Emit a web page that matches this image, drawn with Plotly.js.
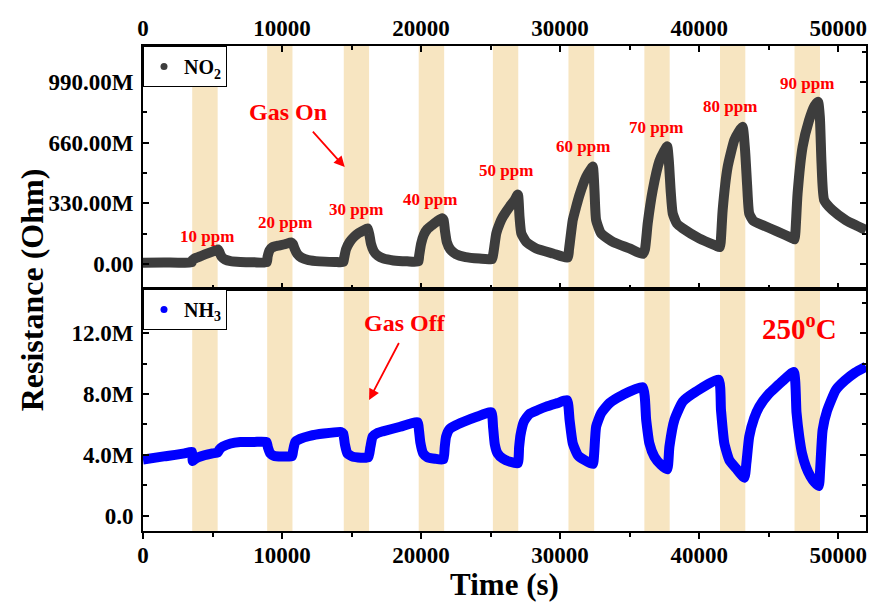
<!DOCTYPE html>
<html>
<head>
<meta charset="utf-8">
<script src="https://cdn.plot.ly/plotly-3.0.1.min.js"></script>
<style>html,body{margin:0;padding:0;background:#fff;}#chart{width:873px;height:602px;}</style>
</head>
<body>
<div id="chart"></div>
<script>
// Gas-on intervals (s)
const bandStart = [3540, 8930, 14440, 19830, 25165, 30600, 36060, 41500, 46860];
const bandEnd   = [5370, 10750, 16260, 21660, 26990, 32450, 37880, 43320, 48690];

// NO2 response: time (s) and resistance (MOhm)
const no2Time = [0,1500,3500,
  3560,3700,4200,4700,5200,5400,5500,5650,5900,6300,7000,8000,8900,
  8960,9100,9300,9700,10200,10650,10780,10900,11100,11400,11900,12700,13800,14400,
  14470,14600,14870,15200,15500,15850,16150,16280,16400,16600,16900,17300,18000,19000,19800,
  19860,20000,20200,20450,20800,21150,21500,21620,21720,21850,22100,22500,23200,24200,25100,
  25200,25410,25650,25880,26360,26700,26960,27080,27210,27560,28280,29480,30550,
  30640,30910,31150,31390,31870,32200,32350,32470,32590,32950,33790,34990,35940,
  36100,36300,36660,37140,37450,37700,37820,37950,38100,38400,38820,40000,41210,41480,
  41550,41690,42050,42530,42850,43120,43300,43450,43600,43900,44560,45600,46720,46860,
  46920,47080,47440,47900,48300,48550,48680,48800,48990,49590,50550,51300,52000];
const no2Value = [8,9,10,
  22,30,45,60,74,80,65,40,25,16,12,10,10,
  40,75,92,100,108,118,110,85,55,35,22,15,12,11,
  35,80,121,150,168,183,194,160,110,70,45,30,20,15,14,
  45,110,160,190,212,232,250,240,180,120,80,55,38,30,27,
  60,167,220,257,311,345,378,257,167,121,85,58,36,
  80,239,310,375,474,515,530,402,239,167,121,85,55,
  80,221,402,560,610,640,560,400,275,220,194,140,100,92,
  120,293,528,674,720,746,620,430,275,235,212,178,140,135,
  170,384,637,780,860,882,800,550,348,293,239,210,185];

// NH3 response: time (s) and resistance (MOhm)
const nh3Time = [0,1500,3000,3520,3580,3700,4000,5000,5370,5500,5750,6300,7000,8000,8880,
  8980,9150,9400,10000,10720,10800,10950,11300,12000,13000,14250,
  14400,14520,14700,15100,16200,16350,16520,16900,17250,18500,19750,
  19850,19950,20150,20450,21000,21600,21700,21800,22050,22500,23000,24000,25050,
  25180,25300,25500,25890,26400,26950,27050,27150,27400,27800,28400,29000,29800,30500,
  30680,30910,31270,31750,32350,32450,32590,32950,33550,34500,35940,
  36190,36420,36780,37260,37700,37860,38220,38820,39780,41400,
  41570,41810,42170,42650,43250,43400,43600,43950,44320,45000,45520,46000,46800,
  47000,47200,47400,47680,48000,48300,48600,48700,48880,49200,49830,50500,51200,52000];
const nh3Value = [3.7,3.9,4.1,4.2,3.6,3.7,3.85,4.1,4.15,4.35,4.55,4.75,4.85,4.85,4.85,
  4.5,4.1,3.95,3.9,3.92,4.3,4.85,5.05,5.25,5.4,5.5,
  5.4,4.7,4.1,3.88,3.84,4.5,5.2,5.45,5.55,5.85,6.15,
  5.6,4.8,4.1,3.85,3.75,3.7,4.5,5.2,5.7,5.95,6.15,6.5,6.8,
  5.8,4.7,4.1,3.75,3.55,3.45,4.5,5.3,6.2,6.7,6.95,7.17,7.4,7.6,
  6.3,4.76,3.99,3.66,3.4,4.1,5.86,6.74,7.4,7.94,8.45,
  6.3,4.76,3.88,3.34,3.05,4.54,6.3,7.5,8.16,8.95,
  6.95,4.76,3.66,3.12,2.5,3.5,5.2,6.4,7.17,8.0,8.45,8.85,9.45,
  6.8,5.2,4.1,3.22,2.6,2.2,1.95,3.0,5.64,6.9,8.27,8.9,9.4,9.8];

const ppmLabels = ['10 ppm','20 ppm','30 ppm','40 ppm','50 ppm','60 ppm','70 ppm','80 ppm','90 ppm'];

const topTickVals = [0, 330, 660, 990];
const topTickText = ['0.00', '330.00M', '660.00M', '990.00M'];
const botTickVals = [0, 4, 8, 12];
const botTickText = ['0.0', '4.0M', '8.0M', '12.0M'];

const FONT = 'Liberation Serif, Times New Roman, serif';
const tickFont = {family: FONT, size: 23, weight: 'bold', color: '#000'};

const traces = [
  {x: no2Time, y: no2Value, xaxis: 'x2', yaxis: 'y2', mode: 'lines', showlegend: false,
   line: {color: '#3d3d3d', width: 10, shape: 'spline', smoothing: 0.5}},
  {x: nh3Time, y: nh3Value, xaxis: 'x', yaxis: 'y', mode: 'lines', showlegend: false,
   line: {color: '#0000ff', width: 10, shape: 'spline', smoothing: 0.5}},
  {x: [null], y: [null], xaxis: 'x2', yaxis: 'y2', mode: 'markers', name: 'NO<sub>2</sub>',
   marker: {color: '#3d3d3d', size: 7}, legend: 'legend'},
  {x: [null], y: [null], xaxis: 'x', yaxis: 'y', mode: 'markers', name: 'NH<sub>3</sub>',
   marker: {color: '#0000ff', size: 7}, legend: 'legend2'}
];

const shapes = bandStart.map((s, i) => ({
  type: 'rect', xref: 'x', yref: 'paper', x0: s, x1: bandEnd[i], y0: 0, y1: 1,
  fillcolor: '#f7e5c1', line: {width: 0}, layer: 'below'
}));

// ppm label positions (relative to the peaks)
const ppmX = [4600, 10200, 15300, 20620, 26080, 31610, 36930, 42240, 47770];
const ppmY = [152, 228, 299, 353, 511, 641, 744, 858, 983];
const annFont = {family: FONT, size: 17, weight: 'bold', color: '#ff0000'};
const annotations = ppmLabels.map((t, i) => ({
  text: t, x: ppmX[i], y: ppmY[i], xref: 'x2', yref: 'y2', showarrow: false, font: annFont
}));
annotations.push(
  {text: 'Gas On', x: 10420, y: 826, xref: 'x2', yref: 'y2', showarrow: false,
   font: {family: FONT, size: 24, weight: 'bold', color: '#ff0000'}},
  {text: '', x: 14510, y: 527, xref: 'x2', yref: 'y2', ax: 12120, ay: 728, axref: 'x2', ayref: 'y2',
   showarrow: true, arrowhead: 2, arrowsize: 1.2, arrowwidth: 1.8, arrowcolor: '#ff0000'},
  {text: 'Gas Off', x: 18820, y: 12.68, xref: 'x', yref: 'y', showarrow: false,
   font: {family: FONT, size: 24, weight: 'bold', color: '#ff0000'}},
  {text: '', x: 16260, y: 7.61, xref: 'x', yref: 'y', ax: 18460, ay: 11.45, axref: 'x', ayref: 'y',
   showarrow: true, arrowhead: 2, arrowsize: 1.2, arrowwidth: 1.8, arrowcolor: '#ff0000'},
  {text: '250<sup>o</sup>C', x: 47200, y: 12.41, xref: 'x', yref: 'y', showarrow: false,
   font: {family: FONT, size: 29, weight: 'bold', color: '#ff0000'}},
  {text: 'Resistance (Ohm)', x: -0.153, y: 0.497, xref: 'paper', yref: 'paper', showarrow: false,
   xanchor: 'center', yanchor: 'middle',
   textangle: -90, font: {family: FONT, size: 32, weight: 'bold', color: '#000'}}
);

const split = 0.499;
const commonX = {range: [0, 52000], dtick: 10000, tick0: 0, tickformat: 'd', showline: true, linewidth: 2,
  linecolor: '#000', showgrid: false, zeroline: false, tickfont: tickFont, ticklen: 6,
  tickwidth: 2, tickcolor: '#000'};

const layout = {
  width: 873, height: 602,
  margin: {l: 143, r: 7, t: 46, b: 71},
  paper_bgcolor: '#fff', plot_bgcolor: 'rgba(0,0,0,0)',
  showlegend: true,
  xaxis: Object.assign({}, commonX, {anchor: 'y', domain: [0, 1], side: 'bottom', ticks: 'outside',
    mirror: true, ticklabelstandoff: -4,
    minor: {ticks: 'outside', dtick: 5000, ticklen: 4, tickwidth: 2, tickcolor: '#000'},
    title: {text: 'Time (s)', standoff: 8, font: {family: FONT, size: 31, weight: 'bold', color: '#000'}}}),
  xaxis2: Object.assign({}, commonX, {anchor: 'y2', domain: [0, 1], side: 'top', ticks: 'inside',
    mirror: 'ticks', matches: 'x', ticklabelstandoff: -1,
    minor: {ticks: 'inside', dtick: 5000, ticklen: 4, tickwidth: 2, tickcolor: '#000'}}),
  yaxis: {anchor: 'x', domain: [0, split], range: [-1.0, 14.9], tickvals: botTickVals, ticktext: botTickText,
    ticks: 'inside', mirror: 'ticks', showline: true, linewidth: 2, linecolor: '#000', ticklen: 6, tickwidth: 2,
    tickcolor: '#000', showgrid: false, zeroline: false, tickfont: tickFont, ticklabelstandoff: 3,
    minor: {ticks: 'inside', tickvals: [2, 6, 10, 14], ticklen: 4, tickwidth: 2, tickcolor: '#000'}},
  yaxis2: {anchor: 'x2', domain: [split, 1], range: [-135, 1185], tickvals: topTickVals, ticktext: topTickText,
    ticks: 'inside', mirror: 'ticks', showline: true, linewidth: 2, linecolor: '#000', ticklen: 6, tickwidth: 2,
    tickcolor: '#000', showgrid: false, zeroline: false, tickfont: tickFont, ticklabelstandoff: 3,
    minor: {ticks: 'inside', tickvals: [165, 495, 825, 1155], ticklen: 4, tickwidth: 2, tickcolor: '#000'}},
  legend: {x: 0, y: 1, xanchor: 'left', yanchor: 'top', bgcolor: '#fff', bordercolor: '#000', borderwidth: 1,
    font: {family: FONT, size: 20, weight: 'bold', color: '#000'}, itemwidth: 30, tracegroupgap: 0},
  legend2: {x: 0, y: split, xanchor: 'left', yanchor: 'top', bgcolor: '#fff', bordercolor: '#000', borderwidth: 1,
    font: {family: FONT, size: 20, weight: 'bold', color: '#000'}, itemwidth: 30, tracegroupgap: 0},
  shapes: shapes,
  annotations: annotations
};

Plotly.newPlot('chart', traces, layout, {displayModeBar: false, staticPlot: true});
</script>
</body>
</html>
